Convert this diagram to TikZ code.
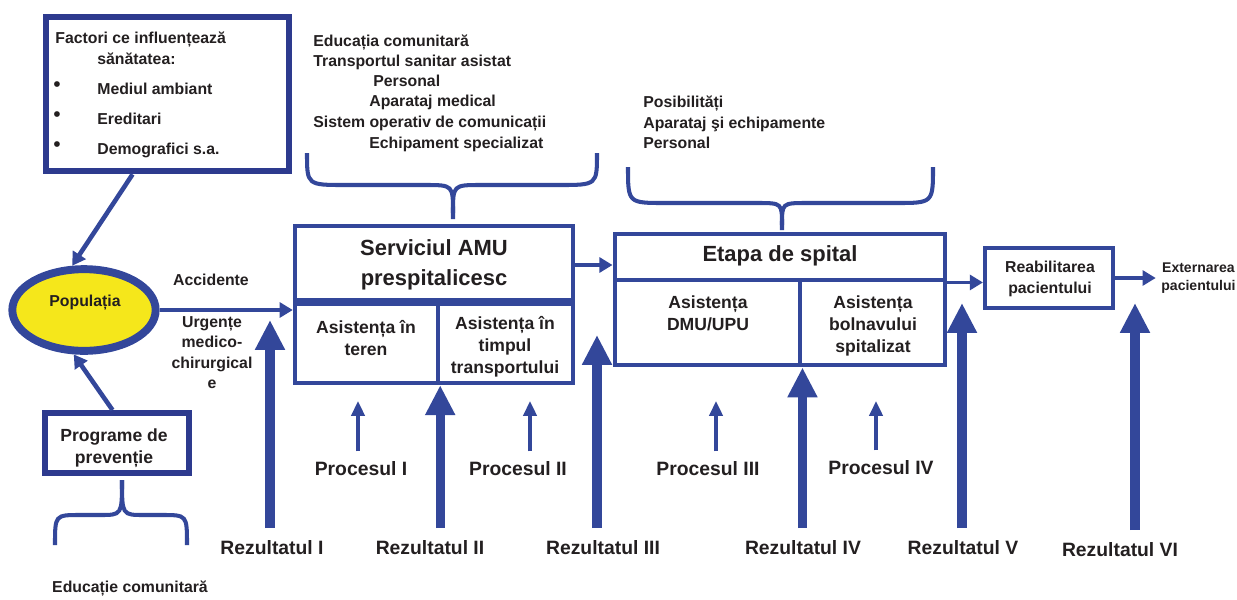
\documentclass[tikz,border=0pt]{standalone}
\usepackage{fontspec}
\setmainfont{Liberation Sans}
\usepackage{tikz}
\usetikzlibrary{arrows.meta, positioning, calc, shapes.geometric, fit}
\usepackage{xcolor}
\definecolor{amublue}{HTML}{33479A}
\definecolor{boxnavy}{HTML}{2D3A8E}
\definecolor{popyellow}{HTML}{F5E71B}
\definecolor{txtgray}{HTML}{231F20}
\newcommand{\txteight}{\fontsize{8}{10.2}\selectfont\bfseries}
\newcommand{\txtnine}{\fontsize{9}{11.7}\selectfont\bfseries}
\newcommand{\txtten}{\fontsize{10}{12.5}\selectfont\bfseries}
\newcommand{\txteleven}{\fontsize{11}{13}\selectfont\bfseries}
\newcommand{\txttitle}{\fontsize{12.5}{17}\selectfont\bfseries}
\tikzset{
  every node/.style={font=\bfseries, text=txtgray},
  cellbox/.style={draw=amublue, line width=2.5pt, inner sep=0pt},
  framebox/.style={draw=boxnavy, line width=3.8pt, inner sep=0pt},
  lbl/.style={anchor=base west, inner sep=0pt, font=\txtnine},
  bullet/.style={anchor=base west, inner sep=0pt, font=\fontsize{12}{12}\selectfont},
  flow/.style={draw=amublue, line width=2pt, -{Triangle[width=8.5pt,length=7.5pt]}},
  bigup/.style={draw=amublue, line width=5.2pt, -{Triangle[width=16pt,length=17pt]}, shorten <=3.7pt},
  procup/.style={draw=amublue, line width=2.6pt, -{Triangle[width=7.5pt,length=8.5pt]}, shorten <=2.5pt},
  curlyline/.style={draw=amublue, line width=2.3pt}
}

\begin{document}
\begin{tikzpicture}[x=0.02cm, y=-0.02cm]
  \useasboundingbox (0,0) rectangle (1237,599);

  % factori
  \node[framebox, fit={(46,17) (289,171)}] (factori) {};
  \node[lbl] (fhead) at (55,43) {Factori ce influențează};
  \node[lbl] (fsub) at (97,64) {sănătatea:};
  \node[bullet] (dot1) at (53,91) {•};
  \node[bullet] (dot2) at (53,121) {•};
  \node[bullet] (dot3) at (53,151) {•};
  \node[lbl] (fmed) at (97,94) {Mediul ambiant};
  \node[lbl] (fere) at (97,124) {Ereditari};
  \node[lbl] (fdem) at (97,154) {Demografici s.a.};

  % populatia
  \node[ellipse, draw=amublue, line width=4.5pt, fill=popyellow,
        minimum width=81.6pt, minimum height=46.5pt] (pop) at (84,310) {};
  \node[font=\txtnine] (poptxt) at (85,303) {Populația};

  % programe
  \node[framebox, line width=3.4pt, fit={(45,413) (189,473)}] (prog) {};
  \node[font=\txtten, align=center] (progtxt) at (114,448) {Programe de\\prevenție};
  \draw[curlyline] (122,480) .. controls (122,515) and (122,515) .. (100,515) -- (80,515) .. controls (55,515) and (55,515) .. (55,545);
  \draw[curlyline] (122,480) .. controls (122,515) and (122,515) .. (144,515) -- (162,515) .. controls (187,515) and (187,515) .. (187,545);
  \node[font=\txtnine] (educ) at (130,589) {Educație comunitară};

  \draw[flow, line width=2.6pt] ($(factori.south west)!0.36!(factori.south east)$) -- (pop.105);
  \draw[flow, line width=2.6pt] ($(prog.north west)!0.47!(prog.north east)$) -- (pop.257);

  % serviciul AMU
  \node[cellbox, fit={(295,226) (573,304)}] (amutop) {};
  \node[cellbox, fit={(295,304) (438,383)}] (amuleft) {};
  \node[cellbox, fit={(438,304) (573,383)}] (amuright) {};
  \draw[amublue, line width=4pt] (amuleft.north west) -- (amuright.north east);
  \node[font=\txttitle, align=center] (tamu) at (434,265) {Serviciul AMU\\prespitalicesc};
  \node[font=\txtten, align=center] (tteren) at (366,338) {Asistența în\\teren};
  \node[font=\txtten, align=center] (ttransp) at (505,347) {Asistența în\\timpul\\transportului};

  \node[lbl] (la1) at (313,46) {Educația comunitară};
  \node[lbl] (la2) at (313,66) {Transportul sanitar asistat};
  \node[lbl] (la3) at (373,86) {Personal};
  \node[lbl] (la4) at (369,106) {Aparataj medical};
  \node[lbl] (la5) at (313,127) {Sistem operativ de comunicații};
  \node[lbl] (la6) at (369,148) {Echipament specializat};
  \draw[curlyline] (307,153) .. controls (307,185) and (307,185) .. (345,185) -- (425,185) .. controls (453,185) and (453,185) .. (453,213) -- (453,219);
  \draw[curlyline] (597,153) .. controls (597,185) and (597,185) .. (559,185) -- (481,185) .. controls (453,185) and (453,185) .. (453,213);

  \node[font=\txtnine] (acc) at (211,280) {Accidente};
  \node[anchor=north, inner sep=0pt, font=\txtnine, align=center] (urg) at (212,316) {Urgențe\\medico-\\chirurgical\\e};
  \draw[flow] (pop) -- (pop -| amutop.west);

  % etapa de spital
  \node[cellbox, line width=2.8pt, fit={(615,234) (945,280)}] (etapatop) {};
  \node[cellbox, line width=2.8pt, fit={(615,280) (800,365)}] (etapaleft) {};
  \node[cellbox, line width=2.8pt, fit={(800,280) (945,365)}] (etaparight) {};
  \node[font=\txttitle] (tetapa) at (780,256) {Etapa de spital};
  \node[font=\txtten, align=center] (tdmu) at (708,313) {Asistența\\DMU/UPU};
  \node[font=\txtten, align=center] (tbolnav) at (873,326) {Asistența\\bolnavului\\spitalizat};

  \node[lbl] (lb1) at (643,107) {Posibilități};
  \node[lbl] (lb2) at (643,128) {Aparataj şi echipamente};
  \node[lbl] (lb3) at (643,148) {Personal};
  \draw[curlyline] (628,167) .. controls (628,203) and (628,203) .. (665,203) -- (757,203) .. controls (782,203) and (782,203) .. (782,225) -- (782,230);
  \draw[curlyline] (933,167) .. controls (933,203) and (933,203) .. (896,203) -- (807,203) .. controls (782,203) and (782,203) .. (782,225);

  \draw[flow] (amutop.east) -- (amutop.east -| etapatop.west);

  % reabilitare si externare
  \node[cellbox, line width=2.3pt, fit={(985,248) (1113,308)}] (reab) {};
  \node[font=\txtnine, align=center] (treab) at (1050,279) {Reabilitarea\\pacientului};
  \node[anchor=west, inner sep=0pt, font=\txteight, align=center] (ext) at (1161,278) {Externarea\\pacientului};
  \draw[flow] (etapatop.south east) -- (etapatop.south east -| reab.west);
  \draw[flow, shorten >=3pt] (reab) -- (reab -| ext.west);

  % procese
  \node[font=\txteleven] (proc1) at (361,469) {Procesul I};
  \node[font=\txteleven] (proc2) at (518,469) {Procesul II};
  \node[font=\txteleven] (proc3) at (708,469) {Procesul III};
  \node[font=\txteleven] (proc4) at (881,468) {Procesul IV};
  \coordinate (pt1) at (358,401);
  \coordinate (pt2) at (530,401);
  \coordinate (pt3) at (716,401);
  \coordinate (pt4) at (876,401);
  \draw[procup] (proc1.north -| pt1) -- (pt1);
  \draw[procup] (proc2.north -| pt2) -- (pt2);
  \draw[procup] (proc3.north -| pt3) -- (pt3);
  \draw[procup] (proc4.north -| pt4) -- (pt4);

  % rezultate
  \node[font=\txteleven] (rez1) at (272,548) {Rezultatul I};
  \node[font=\txteleven] (rez2) at (430,548) {Rezultatul II};
  \node[font=\txteleven] (rez3) at (603,548) {Rezultatul III};
  \node[font=\txteleven] (rez4) at (803,548) {Rezultatul IV};
  \node[font=\txteleven] (rez5) at (963,548) {Rezultatul V};
  \node[font=\txteleven] (rez6) at (1120,550) {Rezultatul VI};
  \coordinate (rt1) at (270,320);
  \coordinate (rt3) at (597,335);
  \coordinate (rt5) at (962,303);
  \coordinate (rt6) at (1135,303);
  \draw[bigup] (rez1.north -| rt1) -- (rt1);
  \draw[bigup] (rez2.north -| amuleft.south east) -- (amuleft.south east);
  \draw[bigup] (rez3.north -| rt3) -- (rt3);
  \draw[bigup] (rez4.north -| etapaleft.south east) -- (etapaleft.south east);
  \draw[bigup] (rez5.north -| rt5) -- (rt5);
  \draw[bigup] (rez6.north -| rt6) -- (rt6);
\end{tikzpicture}
\end{document}
